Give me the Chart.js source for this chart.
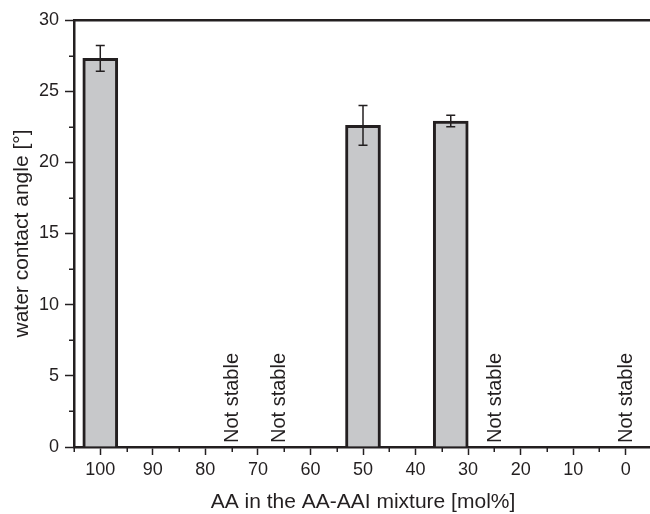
<!DOCTYPE html>
<html>
<head>
<meta charset="utf-8">
<script src="https://cdn.jsdelivr.net/npm/chart.js@4.4.0/dist/chart.umd.min.js"></script>
<style>
  html, body { margin: 0; padding: 0; background: #fff; overflow: hidden; }
  #wrap { width: 654px; height: 514px; }
</style>
</head>
<body>
<div id="wrap"><canvas id="chart"></canvas></div>
<script>
// AA content of the mixture and measured contact angles
const aaContent = [100, 50, 33.3];
const contactAngle = [27.3, 22.6, 22.9];
const angleError = [0.9, 1.4, 0.4];
// compositions where no stable film was obtained
const notStable = [75, 66, 25, 0];
const xTickValues = [100, 90, 80, 70, 60, 50, 40, 30, 20, 10, 0];
const yTickValues = [0, 5, 10, 15, 20, 25, 30];

const ink = "#231f20";
const fontFamily = "'Liberation Sans', Arial, Helvetica, sans-serif";

// error bars drawn through the scales
const errorBars = {
    id: "errorBars",
    afterDatasetsDraw(chart) {
        const ctx = chart.ctx;
        const xs = chart.scales.x;
        const ys = chart.scales.y;
        ctx.save();
        ctx.strokeStyle = ink;
        ctx.lineWidth = 1.5;
        aaContent.forEach((v, i) => {
            const px = xs.getPixelForValue(v);
            const top = ys.getPixelForValue(contactAngle[i] + angleError[i]);
            const bot = ys.getPixelForValue(contactAngle[i] - angleError[i]);
            ctx.beginPath();
            ctx.moveTo(px, top);
            ctx.lineTo(px, bot);
            ctx.moveTo(px - 4.5, top);
            ctx.lineTo(px + 4.5, top);
            ctx.moveTo(px - 4.5, bot);
            ctx.lineTo(px + 4.5, bot);
            ctx.stroke();
        });
        ctx.restore();
    }
};

// "Not stable" notes, rotated, sitting on the x axis
const notStableLabels = {
    id: "notStableLabels",
    afterDatasetsDraw(chart) {
        const ctx = chart.ctx;
        const xs = chart.scales.x;
        const ys = chart.scales.y;
        ctx.save();
        ctx.fillStyle = ink;
        ctx.font = "20px " + fontFamily;
        ctx.textAlign = "left";
        ctx.textBaseline = "middle";
        notStable.forEach(v => {
            ctx.save();
            ctx.translate(xs.getPixelForValue(v) + 1, ys.getPixelForValue(0) - 4);
            ctx.rotate(-Math.PI / 2);
            ctx.fillText("Not stable", 0, 0);
            ctx.restore();
        });
        ctx.restore();
    }
};

// short minor ticks halfway between the labelled ones
const minorTicks = {
    id: "minorTicks",
    afterDraw(chart) {
        const ctx = chart.ctx;
        const xs = chart.scales.x;
        const ys = chart.scales.y;
        const area = chart.chartArea;
        ctx.save();
        ctx.strokeStyle = ink;
        ctx.lineWidth = 1.5;
        ctx.beginPath();
        for (let v = xs.max; v >= xs.min; v -= 10) {
            const px = Math.round(xs.getPixelForValue(v)) + 0.25;
            ctx.moveTo(px, area.bottom);
            ctx.lineTo(px, area.bottom + 5);
        }
        for (let v = 2.5; v < ys.max; v += 5) {
            const py = Math.round(ys.getPixelForValue(v)) + 0.25;
            ctx.moveTo(area.left, py);
            ctx.lineTo(area.left - 5, py);
        }
        ctx.stroke();
        ctx.restore();
    }
};

const tickFont = { family: fontFamily, size: 18 };
const titleFont = { family: fontFamily, size: 21, lineHeight: 1.1 };

new Chart(document.getElementById("chart"), {
    type: "bar",
    data: {
        datasets: [{
            label: "water contact angle",
            data: aaContent.map((x, i) => ({ x: x, y: contactAngle[i] })),
            backgroundColor: "#c7c8ca",
            borderColor: ink,
            borderWidth: 3,
            borderSkipped: "start",
            barThickness: 35
        }]
    },
    options: {
        responsive: true,
        maintainAspectRatio: false,
        animation: false,
        layout: { padding: { left: 0, right: 2, top: 0, bottom: 0 } },
        plugins: {
            legend: { display: false },
            tooltip: { enabled: false }
        },
        scales: {
            x: {
                type: "linear",
                position: "bottom",
                reverse: true,
                offset: false,
                min: -5,
                max: 105,
                afterBuildTicks: s => { s.ticks = xTickValues.map(v => ({ value: v })); },
                afterFit: s => { s.height = 67; },
                ticks: { font: tickFont, color: ink, padding: 4, maxRotation: 0, autoSkip: false },
                grid: { offset: false, drawOnChartArea: false, drawTicks: true, tickLength: 8, tickColor: ink, tickWidth: 1.5 },
                border: { display: true, color: ink, width: 2.5 },
                title: { display: true, text: "AA in the AA-AAI mixture [mol%]", font: titleFont, color: ink, padding: 0 }
            },
            x2: {
                type: "linear",
                position: "top",
                reverse: true,
                offset: false,
                min: -5,
                max: 105,
                afterFit: s => { s.height = 20; },
                ticks: { display: false },
                grid: { display: false },
                border: { display: true, color: ink, width: 2.5 }
            },
            y: {
                type: "linear",
                min: 0,
                max: 30,
                afterBuildTicks: s => { s.ticks = yTickValues.map(v => ({ value: v })); },
                afterFit: s => { s.width = 74; },
                ticks: { font: tickFont, color: ink, padding: 6 },
                grid: { drawOnChartArea: false, drawTicks: true, tickLength: 9, tickColor: ink, tickWidth: 1.5 },
                border: { display: true, color: ink, width: 2.5 },
                title: { display: true, text: "water contact angle [°]", font: titleFont, color: ink, padding: { top: 11, bottom: 0 } }
            }
        }
    },
    plugins: [errorBars, notStableLabels, minorTicks]
});
</script>
</body>
</html>
